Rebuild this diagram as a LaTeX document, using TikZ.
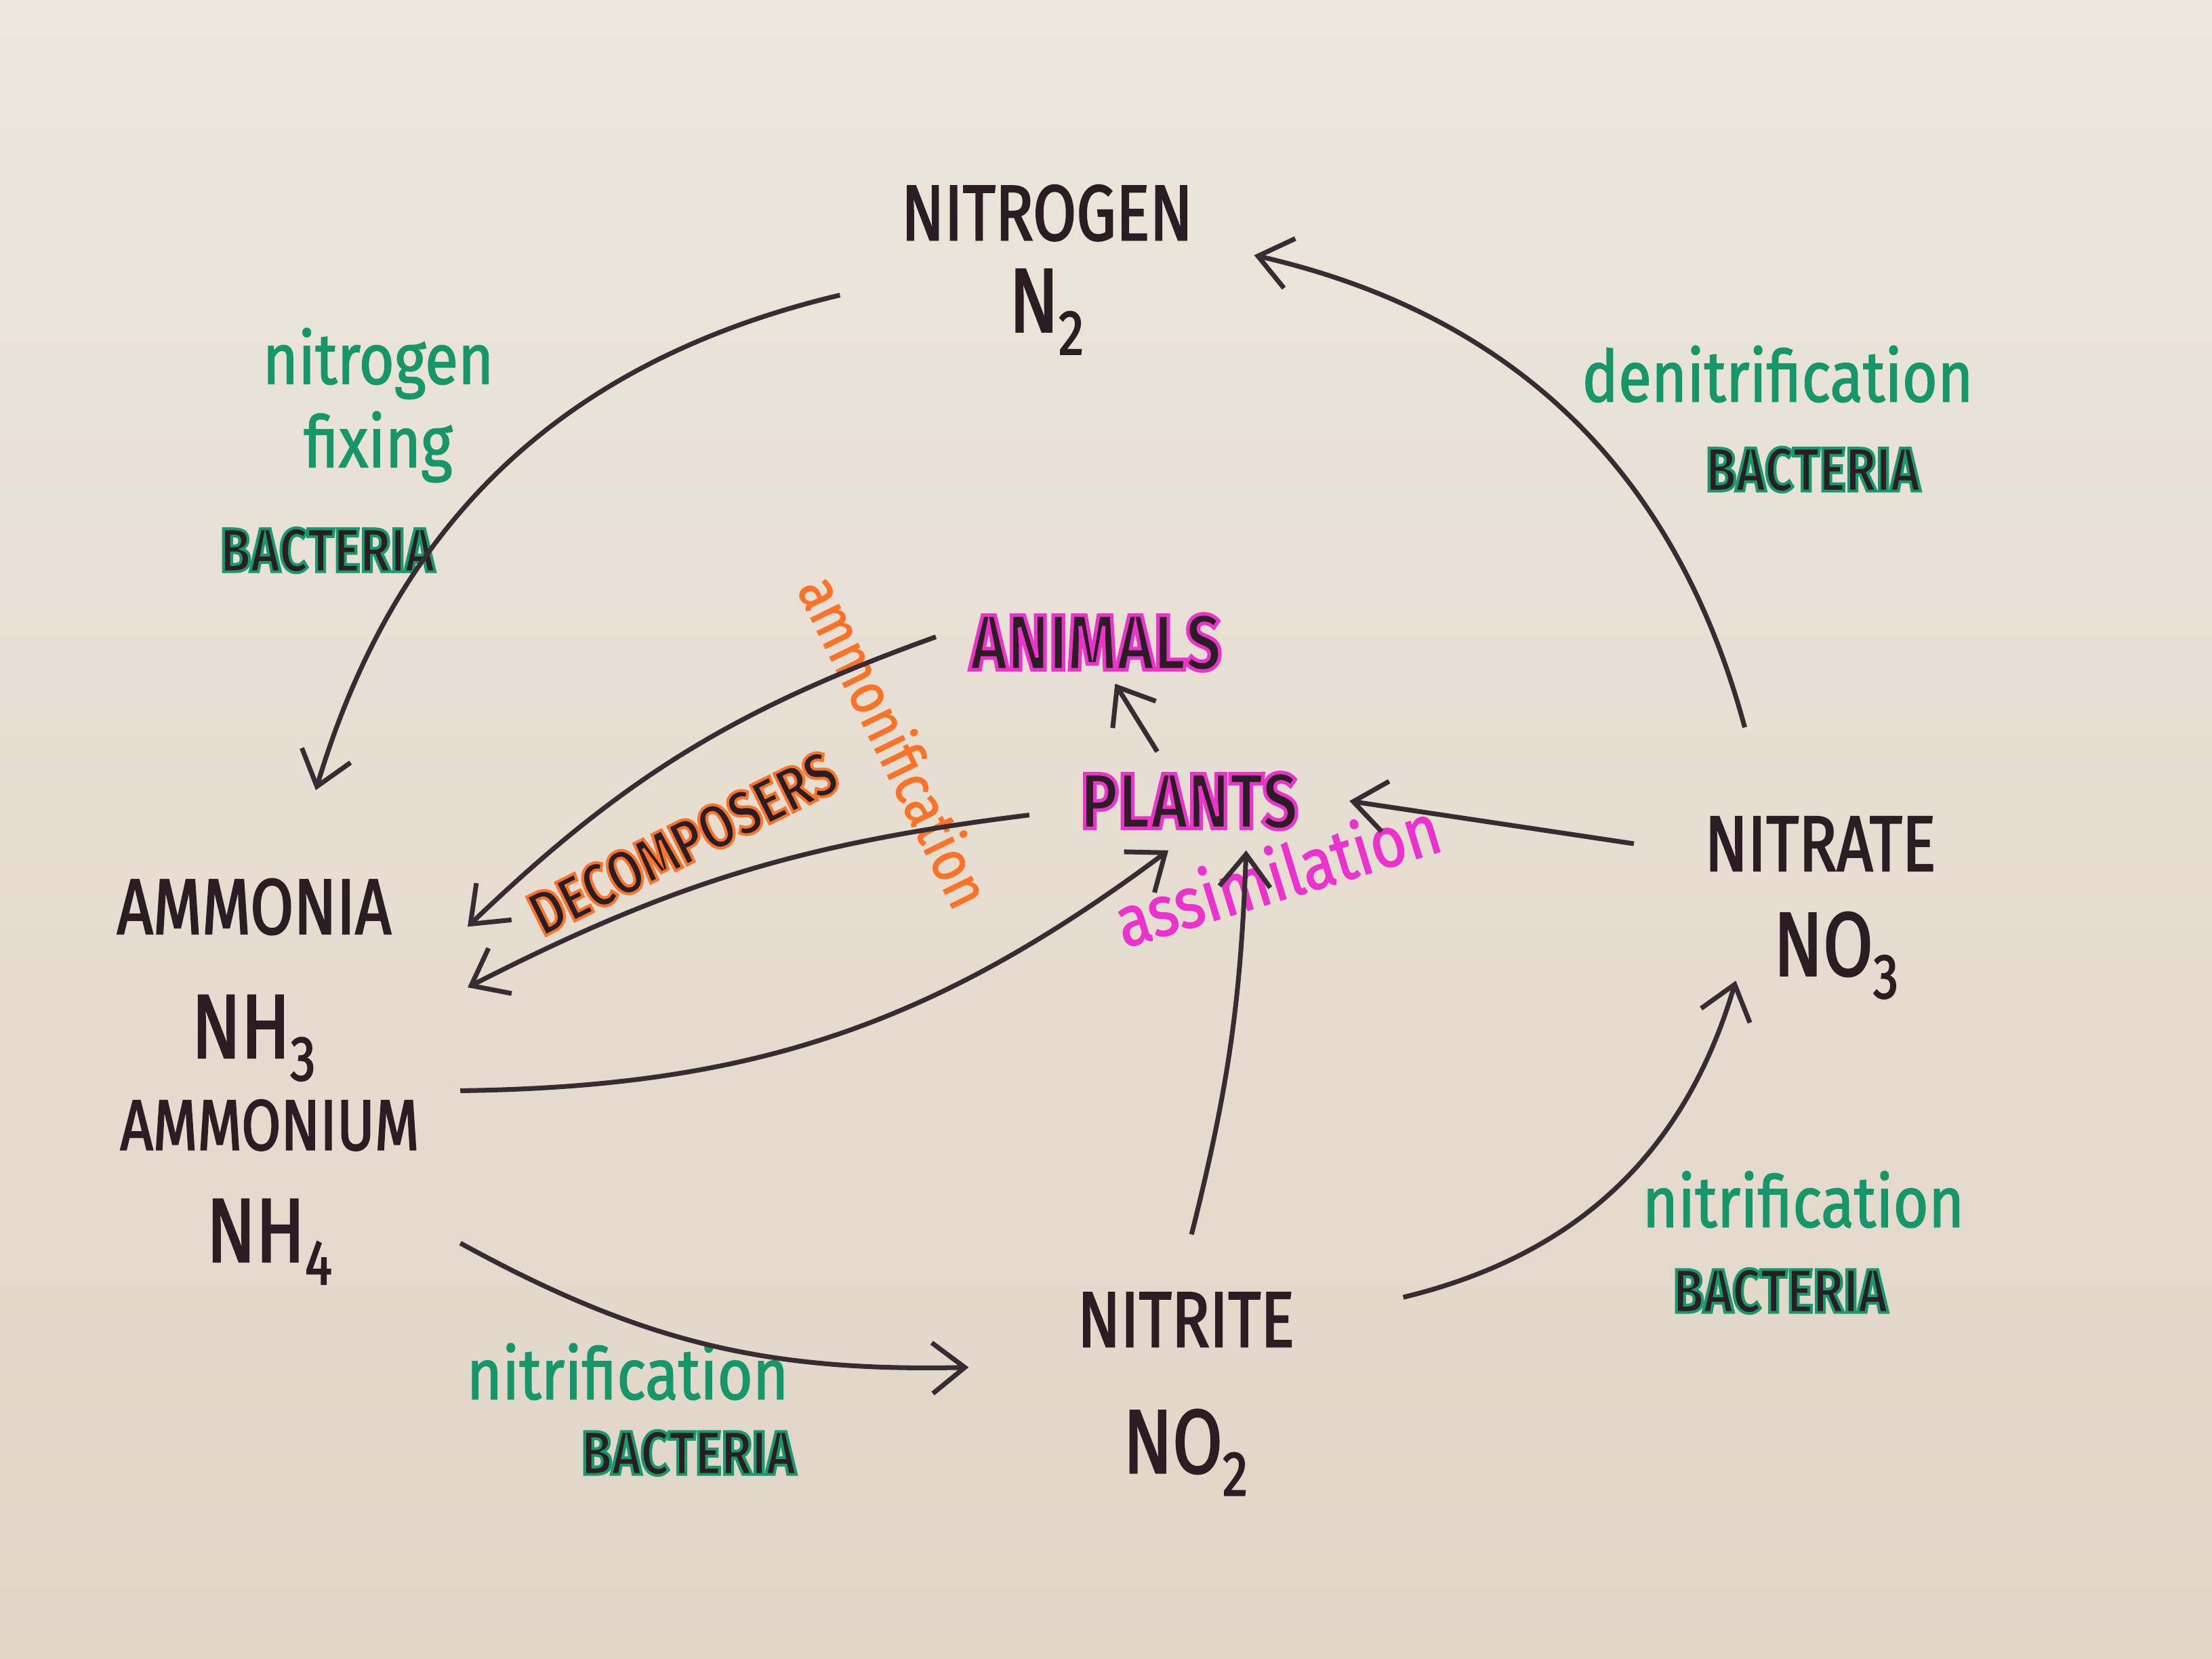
\documentclass[tikz,border=0pt]{standalone}
\usepackage{fontspec}
\setmainfont{Fira Sans}
\newfontfamily\capsfont{Fira Sans}[FakeStretch=0.8, FakeBold=2]
\newfontfamily\glowfont{Fira Sans}[UprightFont=* Bold, FakeStretch=0.8, FakeBold=4.5]
\newfontfamily\notefont{Fira Sans}[FakeStretch=0.85, FakeBold=1.5]
\usetikzlibrary{arrows.meta}
\definecolor{paperlight}{RGB}{236,230,219}
\definecolor{paperdark}{RGB}{224,213,199}
\definecolor{ink}{RGB}{42,30,36}
\definecolor{pen}{RGB}{55,44,50}
\definecolor{mgreen}{RGB}{22,150,105}
\definecolor{morange}{RGB}{250,115,40}
\definecolor{mpink}{RGB}{235,50,205}
% marker halo: the stroke colour of the fake-bold outline
\newcommand{\halo}[2]{\special{pdf:literal direct #1 RG}#2}
\newcommand{\bigchem}{\fontsize{38}{40}\selectfont}
\tikzset{compound/.style = {font=\capsfont\fontsize{33}{52}\selectfont, text=ink, align=center}}
\tikzset{organism/.style = {font=\glowfont\fontsize{33}{40}\selectfont, text=ink}}
\tikzset{bacteria/.style = {font=\glowfont\fontsize{26}{30}\selectfont, text=ink}}
\tikzset{note/.style = {font=\notefont\fontsize{30}{35}\selectfont, text=mgreen, align=center}}
\tikzset{flow/.style = {draw=pen, line width=2pt,
                        -{Straight Barb[length=0.48cm, width=0.75cm]}}}

\begin{document}
\begin{tikzpicture}
  \shade [top color=paperlight, bottom color=paperdark] (0, 0) rectangle (32.64, 24.48);
  % compounds
  \node [compound, font=\capsfont\fontsize{33}{38.5}\selectfont, inner xsep=0.9cm, inner ysep=0.3cm] (nitrogen) at (15.45, 20.5) {NITROGEN\\{\bigchem N\textsubscript{2}}};
  \node [compound, inner xsep=1.12cm, inner ysep=1.3cm] (ammonia) at (3.75, 10.02) {AMMONIA\\{\bigchem NH\textsubscript{3}}};
  \node [compound, font=\capsfont\fontsize{30}{47}\selectfont, inner xsep=0.6cm, inner ysep=0.5cm] (ammonium) at (3.98, 6.89) {AMMONIUM\\{\bigchem NH\textsubscript{4}}};
  \node [compound, font=\capsfont\fontsize{33}{53}\selectfont, inner xsep=1.6cm, inner ysep=0.85cm] (nitrite) at (17.5, 3.91) {NITRITE\\{\bigchem NO\textsubscript{2}}};
  \node [compound, inner xsep=1.04cm, inner ysep=1.31cm] (nitrate) at (26.86, 12.03) {NITRATE};
  \node [compound, inner xsep=0.55cm, inner ysep=0.3cm] (nothree) at (27.1, 10.38) {\bigchem NO\textsubscript{3}};
  \node [organism, inner xsep=0.5cm, inner ysep=0.18cm] (animals) at (16.17, 15.0) {\halo{0.92 0.2 0.8}{ANIMALS}};
  \node [organism, inner xsep=0.75cm, inner ysep=0.3cm] (plants) at (17.55, 12.66) {\halo{0.92 0.2 0.8}{PLANTS}};
  % processes
  \node [note] (fixing) at (5.58, 18.5) {nitrogen\\fixing};
  \node [bacteria] (fixers) at (4.83, 16.36) {\halo{0.1 0.6 0.42}{BACTERIA}};
  \node [note] (denitrification) at (26.23, 18.96) {denitrification};
  \node [bacteria] (denitrifiers) at (26.75, 17.55) {\halo{0.1 0.6 0.42}{BACTERIA}};
  \node [note] (nitrification) at (26.61, 6.78) {nitrification};
  \node [bacteria] (nitrifiers) at (26.27, 5.43) {\halo{0.1 0.6 0.42}{BACTERIA}};
  \node [note] (nitrificationlow) at (9.26, 4.24) {nitrification};
  \node [bacteria] (nitrifierslow) at (10.16, 3.04) {\halo{0.1 0.6 0.42}{BACTERIA}};
  \node [note, text=morange, font=\notefont\fontsize{25}{30}\selectfont, rotate=-64] (ammonification) at (13.22, 13.55) {ammonification};
  \node [bacteria, font=\glowfont\fontsize{26}{30}\selectfont, rotate=26.5] (decomposers) at (10.08, 12.04) {\halo{0.98 0.45 0.16}{DECOMPOSERS}};
  \node [note, text=mpink, rotate=17] (assimilation) at (18.84, 11.6) {assimilation};
  % cycle
  \draw [flow] (nitrogen.187) to [bend right=30] (ammonia.72);
  \draw [flow] (nitrate.123) to [bend right=31] (nitrogen.4);
  \draw [flow] (animals.178) to [bend right=12] (ammonia.14);
  \draw [flow] (plants.185) to [bend right=10] (ammonia.-2);
  \draw [flow] (ammonium.28) to [bend right=18] (plants.247);
  \draw [flow] (plants.123) -- (animals.-65);
  \draw [flow] (nitrate.west) -- (plants.east);
  \draw [flow] (nitrite.88) to [bend right=6] (plants.-41);
  \draw [flow] (ammonium.-15) to [bend right=15] (nitrite.173);
  \draw [flow] (nitrite.24) to [bend right=30] (nothree.194);
\end{tikzpicture}
\end{document}
